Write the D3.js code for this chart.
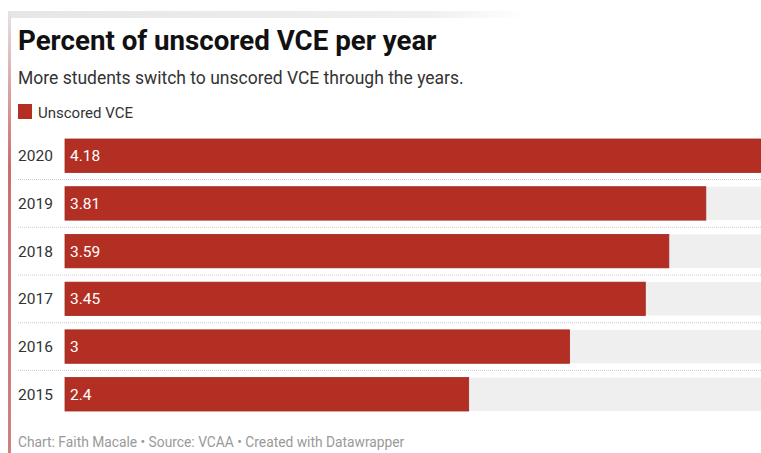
<!DOCTYPE html>
<head>
  <meta charset="utf-8">
  <style>
  body { margin: 0; background: #fff; }
  svg { display: block; font-family: Roboto, "Noto Sans", sans-serif; }
  </style>
  <script src="https://d3js.org/d3.v7.min.js"></script>
</head>
<body>
  <svg width="761" height="453"></svg>
  <script>
  // data
  var years = ["2020", "2019", "2018", "2017", "2016", "2015"];
  var values = [4.18, 3.81, 3.59, 3.45, 3, 2.4];
  var labels = ["4.18", "3.81", "3.59", "3.45", "3", "2.4"];

  var svg = d3.select("svg");

  var defs = svg.append("defs");
  var topGrad = defs.append("linearGradient").attr("id", "topfade");
  topGrad.append("stop").attr("offset", "0%").attr("stop-color", "#e6e6e6");
  topGrad.append("stop").attr("offset", "80%").attr("stop-color", "#efefef");
  topGrad.append("stop").attr("offset", "100%").attr("stop-color", "#fff");
  var sideGrad = defs.append("linearGradient").attr("id", "sidefade")
    .attr("x1", 0).attr("y1", 0).attr("x2", 0).attr("y2", 1);
  sideGrad.append("stop").attr("offset", "0%").attr("stop-color", "#e4e4e4");
  sideGrad.append("stop").attr("offset", "18%").attr("stop-color", "#d9a3a3");
  sideGrad.append("stop").attr("offset", "35%").attr("stop-color", "#cc6e6e");
  sideGrad.append("stop").attr("offset", "100%").attr("stop-color", "#d08080");

  // screenshot frame
  svg.append("rect").attr("x", 8).attr("y", 11).attr("width", 520).attr("height", 7)
    .attr("fill", "url(#topfade)");
  svg.append("rect").attr("x", 8).attr("y", 11).attr("width", 3).attr("height", 442)
    .attr("fill", "url(#sidefade)");

  // header
  svg.append("text").attr("x", 18).attr("y", 50)
    .attr("font-size", 27.7).attr("font-weight", 700).attr("fill", "#111")
    .text("Percent of unscored VCE per year");
  svg.append("text").attr("x", 18).attr("y", 84)
    .attr("font-size", 17.5).attr("fill", "#333")
    .text("More students switch to unscored VCE through the years.");

  // legend
  svg.append("rect").attr("x", 18).attr("y", 104).attr("width", 14).attr("height", 15)
    .attr("fill", "#b32f24");
  svg.append("text").attr("x", 38).attr("y", 118)
    .attr("font-size", 15).attr("fill", "#333").text("Unscored VCE");

  var x = d3.scaleLinear().domain([0, 1]).range([65, 65 + 168.2]);
  var y = d3.scaleBand().domain(years).range([139, 411]).paddingInner(0.3).paddingOuter(0);
  var bgMax = 4.18;

  var row = svg.append("g").selectAll("g")
    .data(years)
    .enter().append("g");

  row.append("rect")
    .attr("x", x(0))
    .attr("y", function(d) { return y(d); })
    .attr("width", x(bgMax) - x(0))
    .attr("height", y.bandwidth())
    .attr("fill", "#efefef");

  row.append("rect")
    .attr("x", x(0))
    .attr("y", function(d) { return y(d); })
    .attr("width", function(d, i) { return x(values[i]) - x(0); })
    .attr("height", y.bandwidth())
    .attr("fill", "#b32f24")
    .attr("stroke", "#9e2a20")
    .attr("stroke-width", 0.8);

  row.append("text")
    .attr("x", 18)
    .attr("y", function(d) { return y(d) + y.bandwidth() / 2 + 5.5; })
    .attr("font-size", 15.5).attr("fill", "#333")
    .text(function(d) { return d; });

  row.append("text")
    .attr("x", x(0) + 5)
    .attr("y", function(d) { return y(d) + y.bandwidth() / 2 + 5.5; })
    .attr("font-size", 15.5).attr("fill", "#fff")
    .text(function(d, i) { return labels[i]; });

  // dotted separators
  svg.append("g").selectAll("line")
    .data(years.slice(1))
    .enter().append("line")
    .attr("x1", 18).attr("x2", 761)
    .attr("y1", function(d) { return y(d) - y.step() * 0.15; })
    .attr("y2", function(d) { return y(d) - y.step() * 0.15; })
    .attr("stroke", "#ccc").attr("stroke-width", 1)
    .attr("stroke-dasharray", "1,1");

  // footer
  svg.append("text").attr("x", 18).attr("y", 447)
    .attr("font-size", 13.8).attr("fill", "#999")
    .text("Chart: Faith Macale \u2022 Source: VCAA \u2022 Created with Datawrapper");
  </script>
</body>
